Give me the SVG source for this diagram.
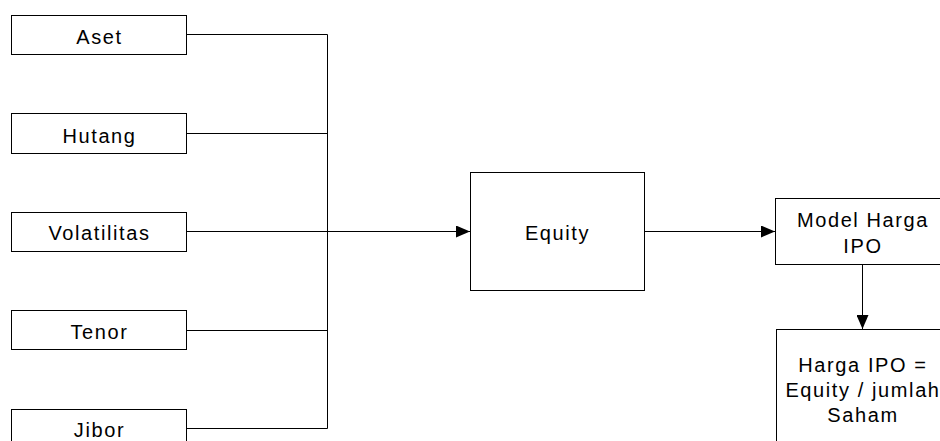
<svg xmlns="http://www.w3.org/2000/svg" width="940" height="441" viewBox="0 0 940 441">
<style>
.box{fill:#fff;stroke:#000;stroke-width:1}
.lbl{font-family:"Liberation Sans",Arial,sans-serif;font-size:20px;letter-spacing:1.6px;fill:#000;text-anchor:middle}
.ln{fill:none;stroke:#000;stroke-width:1}
</style>
<defs>
<marker id="arr" viewBox="0 0 14 12" refX="14" refY="6" markerWidth="14" markerHeight="12" markerUnits="userSpaceOnUse" orient="auto">
<path d="M0,0 L14,6 L0,12 Z" fill="#000"/>
</marker>
</defs>
<rect width="940" height="441" fill="#fff"/>
<g id="connectors">
<path class="ln" d="M186,34.5 H327.5 V428.5 H186"/>
<path class="ln" d="M186,133.5 H327.5"/>
<path class="ln" d="M186,330.5 H327.5"/>
<path class="ln" d="M186,231.5 H470" marker-end="url(#arr)"/>
<path class="ln" d="M645,231.5 H775" marker-end="url(#arr)"/>
<path class="ln" d="M862.5,264 V329" marker-end="url(#arr)"/>
</g>
<g id="aset"><rect class="box" x="11.5" y="15.5" width="175" height="39"/><text class="lbl" x="99.5" y="43.5">Aset</text></g>
<g id="hutang"><rect class="box" x="11.5" y="113.5" width="175" height="40"/><text class="lbl" x="99.5" y="142.5">Hutang</text></g>
<g id="volatilitas"><rect class="box" x="11.5" y="212.5" width="175" height="39"/><text class="lbl" x="99.5" y="239.5">Volatilitas</text></g>
<g id="tenor"><rect class="box" x="11.5" y="310.5" width="175" height="39"/><text class="lbl" x="99.5" y="338.5">Tenor</text></g>
<g id="jibor"><rect class="box" x="11.5" y="409.5" width="175" height="40"/><text class="lbl" x="99.5" y="436.5">Jibor</text></g>
<g id="equity"><rect class="box" x="470.5" y="172.5" width="174" height="118"/><text class="lbl" x="557.5" y="240">Equity</text></g>
<g id="model"><rect class="box" x="775.5" y="198.5" width="180" height="66"/><text class="lbl" x="863" y="226.5">Model Harga</text><text class="lbl" x="863" y="253">IPO</text></g>
<g id="harga"><rect class="box" x="776.5" y="329.5" width="180" height="130"/><text class="lbl" x="863" y="371.5">Harga IPO =</text><text class="lbl" x="863" y="397">Equity / jumlah</text><text class="lbl" x="863" y="422">Saham</text></g>
</svg>
